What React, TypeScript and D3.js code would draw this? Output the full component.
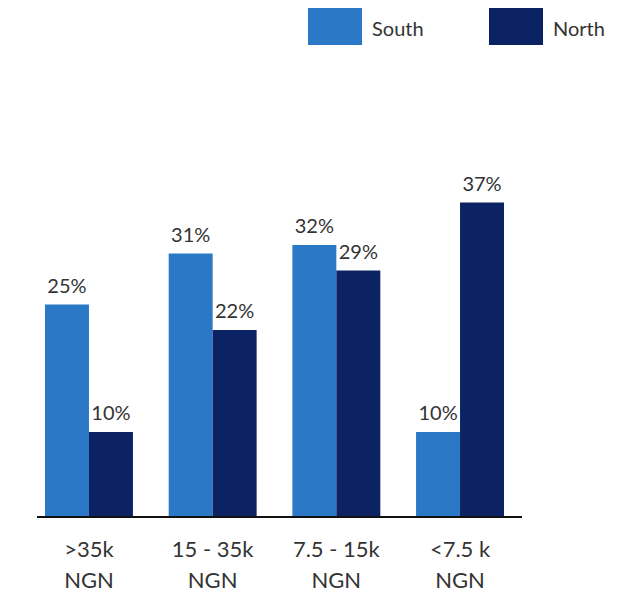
import React from "react";
import * as d3 from "d3";

const categories = [">35k|NGN", "15 - 35k|NGN", "7.5 - 15k|NGN", "<7.5 k|NGN"];
const seriesNames = ["South", "North"];
const south = [25, 31, 32, 10];
const north = [10, 22, 29, 37];
const colors = ["#2b79c6", "#0b2363"];

const W = 621;
const H = 592;
const baseY = 517;

export default function App() {
  const x = d3.scaleBand<string>().domain(categories).range([45, 504]).paddingInner(0.289).paddingOuter(0);
  const sub = d3.scaleBand<string>().domain(seriesNames).range([0, x.bandwidth()]).padding(0);
  const y = d3.scaleLinear().domain([0, 40]).range([baseY, baseY - 340]);
  const series = [south, north];
  const font = "Lato, 'Open Sans', sans-serif";

  return (
    <svg width={W} height={H} style={{ position: "absolute", left: 0, top: 0, background: "#fff" }} fontFamily={font}>
      {seriesNames.map((s, i) => {
        const lx = i === 0 ? 308 : 489;
        return (
          <g key={s}>
            <rect x={lx} y={8} width={54} height={37} fill={colors[i]} />
            <text x={lx + 64} y={36} fontSize={20} fill="#333">{s}</text>
          </g>
        );
      })}
      {categories.map((c, ci) => (
        <g key={c}>
          {seriesNames.map((s, si) => {
            const v = series[si][ci];
            const bx = (x(c) as number) + (sub(s) as number);
            const bw = sub.bandwidth();
            return (
              <g key={s}>
                <rect x={bx} y={y(v)} width={bw} height={baseY - y(v)} fill={colors[si]} />
                <text x={bx + bw / 2} y={y(v) - 12} fontSize={20} fill="#333" textAnchor="middle">{v}%</text>
              </g>
            );
          })}
          {c.split("|").map((line, li) => (
            <text key={li} x={(x(c) as number) + x.bandwidth() / 2} y={557 + li * 31} fontSize={22} fill="#333" textAnchor="middle">{line}</text>
          ))}
        </g>
      ))}
      <line x1={37} x2={522} y1={baseY} y2={baseY} stroke="#111" strokeWidth={2} />
    </svg>
  );
}
